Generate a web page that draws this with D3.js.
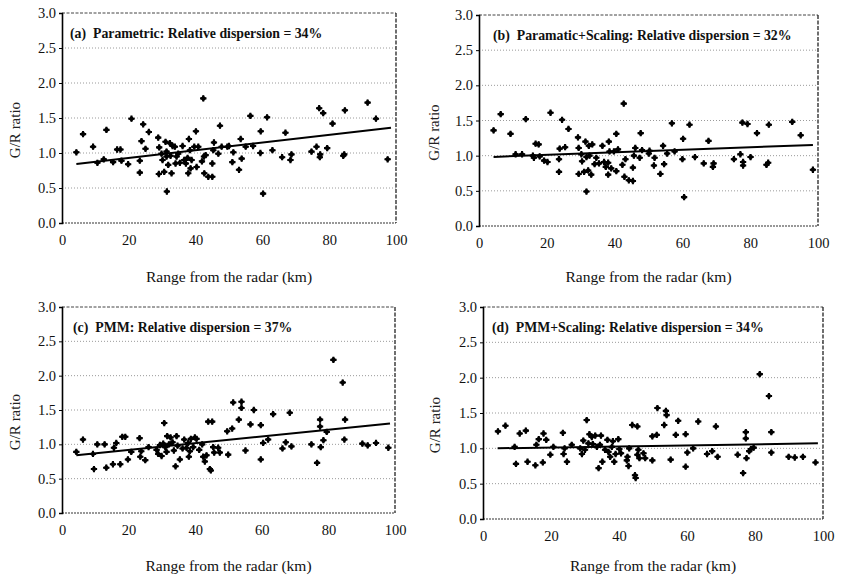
<!DOCTYPE html>
<html>
<head>
<meta charset="utf-8">
<script src="https://cdn.jsdelivr.net/npm/d3@7"></script>
<style>
  body { margin: 0; background: #fff; }
  svg { display: block; font-family: "Liberation Serif", "Times New Roman", serif; }
</style>
</head>
<body>
<svg id="chart" width="841" height="578"></svg>
<script>
// G/R ratio vs range (km)
var pointsA = [[4.3,1.01],[6.3,1.27],[9.3,1.09],[10.6,0.86],[12.5,0.91],[13.3,1.33],[15.3,0.87],[16.5,1.05],[17.5,1.05],
  [17.8,0.89],[19.8,0.84],[20.8,1.49],[23.3,0.89],[23.3,0.72],[23.8,1.17],[24.3,1.41],[25,1.06],[26,1.30],[28.8,1.22],
  [29.1,1.08],[29,0.70],[29.8,0.99],[30.1,0.90],[30.6,0.73],[31,1.16],[31.3,0.95],[31.3,1.02],[31.4,0.45],[31.8,0.83],
  [32.3,1.14],[32.5,0.96],[32.8,0.71],[33.1,1.10],[33.8,1.09],[34,0.85],[34.3,0.95],[34.8,0.99],[35.3,0.86],[36.1,1.10],
  [36.6,0.90],[37.1,0.85],[37.6,0.93],[37.8,0.71],[38,1.20],[38.3,1.04],[38.5,0.78],[38.8,0.90],[39.6,1.09],[40.1,1.31],
  [40.3,0.80],[40.8,1.09],[41.9,0.88],[42.3,1.78],[42.5,0.95],[42.6,0.71],[43,0.97],[43.8,0.66],[45,0.66],[45,0.85],
  [45.3,1.04],[45.5,1.15],[46.8,0.99],[47.3,1.39],[47.8,1.09],[49.5,1.09],[50,1.10],[51,0.87],[51.3,1.01],[53,0.76],
  [53.5,1.20],[53.8,0.92],[55,1.09],[56.4,1.53],[57.2,1.10],[59.4,1.00],[59.5,1.31],[60.2,0.42],[61.4,1.51],[63,1.04],
  [65.9,0.94],[66.9,1.29],[68.4,0.90],[68.7,0.98],[74.7,1.02],[76.2,1.09],[77,1.64],[77.2,0.94],[77.3,0.98],[78.2,1.57],
  [79.4,1.07],[81,1.42],[84.2,0.96],[84.5,0.98],[84.7,1.61],[91.5,1.72],[94,1.49],[97.5,0.91]];

var pointsB = [[4.3,1.36],[6.4,1.59],[9.3,1.31],[10.8,1.02],[12.7,1.02],[13.8,1.52],[15.9,1.00],[16.2,0.97],[16.7,1.17],
  [17.6,1.16],[17.9,0.99],[19.2,0.93],[20.2,0.91],[21.1,1.61],[23.6,0.95],[23.6,0.77],[23.8,1.10],[24.5,1.51],[25.4,1.12],
  [26.4,1.38],[29.2,1.26],[29.4,1.11],[29.4,0.74],[30.2,1.02],[30.4,0.92],[31,0.77],[31.4,1.20],[31.7,0.98],[31.7,0.49],
  [32.2,0.79],[32.4,1.14],[32.6,1.00],[33.1,0.73],[33.4,1.16],[34.1,0.88],[34.6,0.97],[35.4,0.89],[36.4,1.14],[36.9,0.91],
  [37.4,0.84],[38.1,0.90],[38.1,0.73],[38.3,1.20],[38.5,1.06],[39,0.82],[39.8,1.06],[40.5,1.31],[40.5,0.78],[41,1.09],
  [42.3,0.87],[42.7,1.74],[42.9,0.70],[43.2,0.95],[44.2,0.65],[45.4,0.64],[45.4,0.83],[45.7,1.00],[46.1,1.11],[47.4,0.97],
  [47.7,1.32],[48.1,1.08],[50.1,1.03],[50.3,1.07],[51.6,0.86],[51.8,0.97],[53.5,0.74],[54.3,1.14],[54.6,0.88],[55.5,1.03],
  [56.9,1.46],[57.7,1.06],[60,0.95],[60.2,1.24],[60.5,0.41],[62.1,1.44],[63.7,0.98],[66.3,0.89],[67.7,1.21],[69,0.84],
  [69.2,0.89],[75.2,0.95],[77.1,1.02],[77.7,1.47],[77.9,0.91],[77.9,0.86],[79.2,1.45],[80.1,0.98],[82,1.32],[84.8,0.87],
  [85.3,0.90],[85.5,1.44],[92.4,1.48],[94.9,1.29],[98.5,0.80]];

var pointsC = [[4.3,0.89],[6.3,1.07],[9.3,0.86],[9.6,0.64],[10.6,1.00],[12.8,1.00],[13.3,0.66],[15.3,0.71],[15.6,0.95],
  [16.3,1.02],[17.5,0.71],[18.1,1.11],[19,1.11],[19.8,0.78],[20.8,0.89],[23.3,1.09],[23.5,0.82],[23.8,0.90],[25,0.77],
  [26,0.96],[28.4,0.92],[28.9,0.86],[29.4,0.99],[29.9,0.83],[30.4,1.01],[30.7,1.31],[31,0.96],[31.4,0.89],[31.6,1.12],
  [32.1,1.00],[32.6,1.10],[33.2,1.03],[33.6,0.91],[34.1,0.68],[34.4,1.12],[34.7,0.98],[35.4,0.78],[36.2,0.94],[36.7,1.07],
  [37.4,0.95],[37.9,1.02],[38.1,0.82],[38.4,0.90],[38.7,1.08],[39.4,0.96],[39.9,1.10],[40.4,1.08],[41.2,0.92],[42.1,1.00],
  [42.4,0.82],[42.9,0.75],[43.4,0.84],[43.9,1.33],[44.4,0.64],[44.7,0.62],[45.1,1.33],[45.4,0.96],[45.7,0.88],[46.9,0.95],
  [47.4,0.88],[49.6,1.19],[49.9,0.85],[51.1,1.23],[51.4,1.61],[53.1,1.36],[53.9,1.62],[53.9,1.53],[55.1,0.91],[56.6,1.29],
  [57.6,1.50],[59.7,1.28],[59.7,0.78],[60.4,1.02],[61.9,1.07],[63.4,1.44],[66.2,0.94],[67.2,1.03],[68.4,1.46],[68.9,0.97],
  [74.9,1.00],[76.6,0.73],[77.5,1.36],[77.5,1.26],[77.7,0.96],[78.5,1.06],[79.5,1.18],[81.5,2.23],[84.3,1.90],[85,1.36],
  [84.8,1.07],[90.2,1.01],[91.8,0.985],[94.3,1.02],[98,0.95]];

var pointsD = [[4.4,1.24],[6.6,1.32],[9.3,1.02],[9.7,0.78],[10.8,1.21],[12.6,1.25],[13.1,0.81],[15.4,0.76],[15.7,1.05],
  [16.4,1.13],[17.6,0.80],[17.8,1.21],[18.6,1.12],[19.8,0.91],[20.7,1.02],[23.5,1.22],[23.7,0.92],[24,1.00],[24.7,0.81],
  [26.1,1.05],[28.6,1.00],[29.1,0.92],[29.5,1.11],[30,0.98],[30.5,1.40],[31,1.07],[31.3,1.20],[32,1.16],[32.3,1.06],
  [33,1.18],[33.5,1.02],[34,0.72],[34.4,1.05],[34.7,1.18],[35.1,0.81],[35.9,0.98],[36.6,1.12],[36.9,0.95],[37.4,0.88],
  [37.9,1.02],[38.2,1.10],[38.6,0.81],[39,0.92],[39.8,1.13],[40.1,0.99],[40.6,0.93],[42.3,0.83],[42.5,0.88],[42.8,0.75],
  [43,1.00],[43.9,1.33],[44.7,0.62],[44.9,0.58],[45.4,1.31],[45.4,0.91],[45.7,0.98],[46,0.86],[47.2,0.93],[47.7,0.86],
  [49.8,0.83],[49.8,1.17],[51.1,1.19],[51.3,1.57],[53.3,1.33],[53.8,1.53],[54,1.47],[55.2,0.84],[56.7,1.19],[57.4,1.39],
  [59.6,1.20],[59.6,0.74],[60.1,0.94],[61.8,1.00],[63.3,1.38],[65.9,0.92],[67.4,0.96],[68.5,1.31],[69,0.88],[74.9,0.91],
  [76.5,0.65],[77.3,1.23],[77.3,1.14],[77.5,0.86],[78.3,0.96],[78.8,0.99],[79.6,1.01],[81.4,2.05],[84.1,1.74],[84.8,1.23],
  [84.8,0.94],[89.9,0.88],[91.7,0.87],[94.1,0.88],[97.8,0.80]];

// fitted lines: [intercept, slope per km]
var trendA = [0.82, 0.0055];
var trendB = [0.975, 0.0018];
var trendC = [0.82, 0.0049];
var trendD = [0.997, 0.00075];
var trendSpan = [4.3, 98.5];

var titles = ["(a)  Parametric: Relative dispersion = 34%",
              "(b)  Paramatic+Scaling: Relative dispersion = 32%",
              "(c)  PMM: Relative dispersion = 37%",
              "(d)  PMM+Scaling: Relative dispersion = 34%"];

var xTicks = [0, 20, 40, 60, 80, 100];
var yTicks = [0, 0.5, 1, 1.5, 2, 2.5, 3];
var xLabel = "Range from the radar (km)";
var yLabel = "G/R ratio";

// panel boxes in page pixels
var panels = [
  { pts: pointsA, trend: trendA, title: titles[0], l: 62,  r: 396, t: 13,  b: 223, tx: 70,  xt: 277, yl: 15 },
  { pts: pointsB, trend: trendB, title: titles[1], l: 479, r: 818, t: 15,  b: 226, tx: 493, xt: 277, yl: 434 },
  { pts: pointsC, trend: trendC, title: titles[2], l: 62,  r: 395, t: 307, b: 513, tx: 73,  xt: 566, yl: 15 },
  { pts: pointsD, trend: trendD, title: titles[3], l: 483, r: 823, t: 307, b: 519, tx: 492, xt: 566, yl: 435 }
];

var svg = d3.select('#chart');

panels.forEach(function(p) {
  var x = d3.scaleLinear().domain([0, 100]).range([p.l, p.r]);
  var y = d3.scaleLinear().domain([0, 3]).range([p.b, p.t]);
  var g = svg.append('g');

  // dotted grid
  g.selectAll('.grid')
    .data(yTicks.filter(function(v) { return v > 0 && v < 3; }))
    .enter().append('line')
    .attr('x1', p.l).attr('x2', p.r)
    .attr('y1', function(d) { return y(d); })
    .attr('y2', function(d) { return y(d); })
    .attr('stroke', '#9a9a9a')
    .attr('stroke-width', 1)
    .attr('stroke-dasharray', '1,2');

  // frame: top/right/bottom dashed, left solid
  g.append('line').attr('x1', p.l).attr('x2', p.r).attr('y1', p.t).attr('y2', p.t)
    .attr('stroke', '#444').attr('stroke-dasharray', '3,1.5');
  g.append('line').attr('x1', p.r).attr('x2', p.r).attr('y1', p.t).attr('y2', p.b)
    .attr('stroke', '#222').attr('stroke-width', 1.3).attr('stroke-dasharray', '4,1.5');
  g.append('line').attr('x1', p.l).attr('x2', p.r).attr('y1', p.b).attr('y2', p.b)
    .attr('stroke', '#333').attr('stroke-width', 1.2).attr('stroke-dasharray', '2,1');

  // axes
  var yAxis = d3.axisLeft(y).tickValues(yTicks).tickFormat(d3.format('.1f')).tickSize(3).tickPadding(3);
  var yg = g.append('g').attr('transform', 'translate(' + p.l + ',0)').call(yAxis);
  yg.select('.domain').attr('stroke', '#000').attr('stroke-width', 1.6);
  yg.selectAll('text').attr('font-size', 14.5).attr('fill', '#111')
    .attr('font-family', '"Liberation Serif", serif');

  var xAxis = d3.axisBottom(x).tickValues(xTicks).tickSize(0).tickPadding(12);
  var xg = g.append('g').attr('transform', 'translate(0,' + p.b + ')').call(xAxis);
  xg.select('.domain').remove();
  xg.selectAll('text').attr('font-size', 14.5).attr('fill', '#111')
    .attr('font-family', '"Liberation Serif", serif');

  // axis titles
  g.append('text')
    .attr('x', (p.l + p.r) / 2).attr('y', p.xt)
    .attr('text-anchor', 'middle').attr('dy', '0.35em')
    .attr('font-size', 15.5).attr('fill', '#111')
    .text(xLabel);
  g.append('text')
    .attr('transform', 'translate(' + p.yl + ',' + ((p.t + p.b) / 2 + 12) + ') rotate(-90)')
    .attr('text-anchor', 'middle').attr('dy', '0.35em')
    .attr('font-size', 15).attr('fill', '#222')
    .text(yLabel);

  // panel title
  g.append('text')
    .attr('x', p.tx).attr('y', p.t + 20)
    .attr('dy', '0.35em')
    .attr('font-size', 13.8).attr('font-weight', 'bold').attr('fill', '#111')
    .attr('xml:space', 'preserve')
    .style('white-space', 'pre')
    .text(p.title);

  // points
  var cross = d3.symbol().type(d3.symbolCross).size(22);
  var diam = d3.symbol().type(d3.symbolDiamond2).size(24);
  var pts = g.selectAll('.pt').data(p.pts).enter().append('g')
    .attr('transform', function(d) { return 'translate(' + x(d[0]) + ',' + y(d[1]) + ')'; });
  pts.append('path').attr('d', cross).attr('fill', '#000');
  pts.append('path').attr('d', diam).attr('fill', '#000');

  // fitted line
  g.append('line')
    .attr('x1', x(trendSpan[0])).attr('y1', y(p.trend[0] + p.trend[1] * trendSpan[0]))
    .attr('x2', x(trendSpan[1])).attr('y2', y(p.trend[0] + p.trend[1] * trendSpan[1]))
    .attr('stroke', '#000').attr('stroke-width', 2);
});
</script>
</body>
</html>
